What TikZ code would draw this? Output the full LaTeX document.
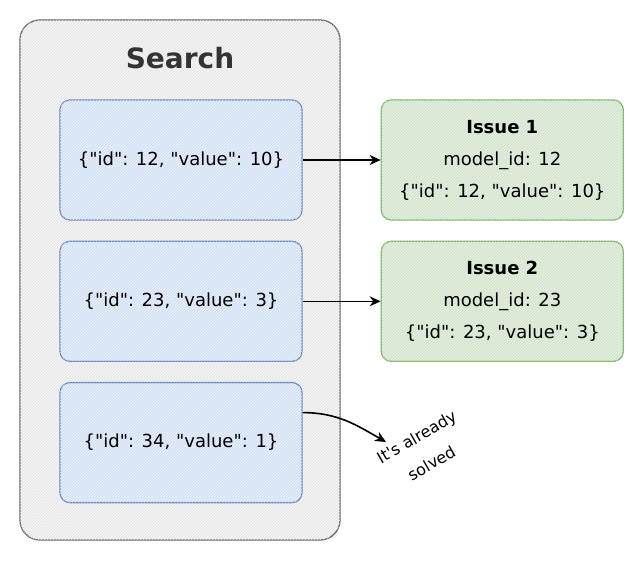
\documentclass[tikz,border=0pt]{standalone}
\usepackage{fontspec}
\setmainfont{DejaVu Sans}[Ligatures=TeXOff]
\usepackage{tikz}
\usetikzlibrary{arrows.meta, positioning, patterns}

\definecolor{boxblue}{HTML}{DAE8FC}
\definecolor{lineblue}{HTML}{6C8EBF}
\definecolor{boxgreen}{HTML}{D5E8D4}
\definecolor{linegreen}{HTML}{82B366}
\definecolor{boxgray}{HTML}{F5F5F5}
\definecolor{linegray}{HTML}{666666}

\tikzset{
  container/.style={draw=linegray, line width=1.3pt, rounded corners=20pt, fill=boxgray,
    postaction={pattern=north east lines, pattern color=black!12},
    minimum width=320pt, minimum height=520pt},
  record/.style={draw=lineblue, line width=1.3pt, rounded corners=10pt, fill=boxblue!70,
    postaction={pattern=north east lines, pattern color=lineblue!35},
    minimum width=242pt, minimum height=120pt, align=center, text=black},
  issue/.style={draw=linegreen, line width=1.3pt, rounded corners=10pt, fill=boxgreen!70,
    postaction={pattern=north east lines, pattern color=linegreen!40},
    minimum width=242pt, minimum height=120pt, align=center, text=black},
}

\begin{document}
\begin{tikzpicture}[x=1pt,y=1pt,->,>={Stealth[length=11pt,width=10pt]},line width=1.6pt,
    font=\fontsize{18}{32}\selectfont, node distance=20pt]
  \useasboundingbox (0,0) rectangle (640,-560);
  \node[container] (search) at (180,-280) {};
  \node[font=\fontsize{28}{32}\selectfont\bfseries, text=black!80] (title) at (180,-58) {Search};
  \node[record] (rec1) at (181,-160) {\{"id": 12, "value": 10\}};
  \node[record, below=of rec1] (rec2) {\{"id": 23, "value": 3\}};
  \node[record, below=of rec2] (rec3) {\{"id": 34, "value": 1\}};
  \node[issue, right=78pt of rec1] (issue1) {\textbf{Issue 1}\\model\_id: 12\\\{"id": 12, "value": 10\}};
  \node[issue, right=78pt of rec2] (issue2) {\textbf{Issue 2}\\model\_id: 23\\\{"id": 23, "value": 3\}};
  \node[rotate=30, align=center, font=\fontsize{16}{30}\selectfont] (solved) at (424,-450) {It's already\\solved};
  \coordinate (tip) at (386,-442);
  \draw (rec1) -- (issue1);
  \draw (rec2) -- (issue2);
  \draw ([yshift=30pt]rec3.east) to[out=0, in=150] (tip);
\end{tikzpicture}
\end{document}
